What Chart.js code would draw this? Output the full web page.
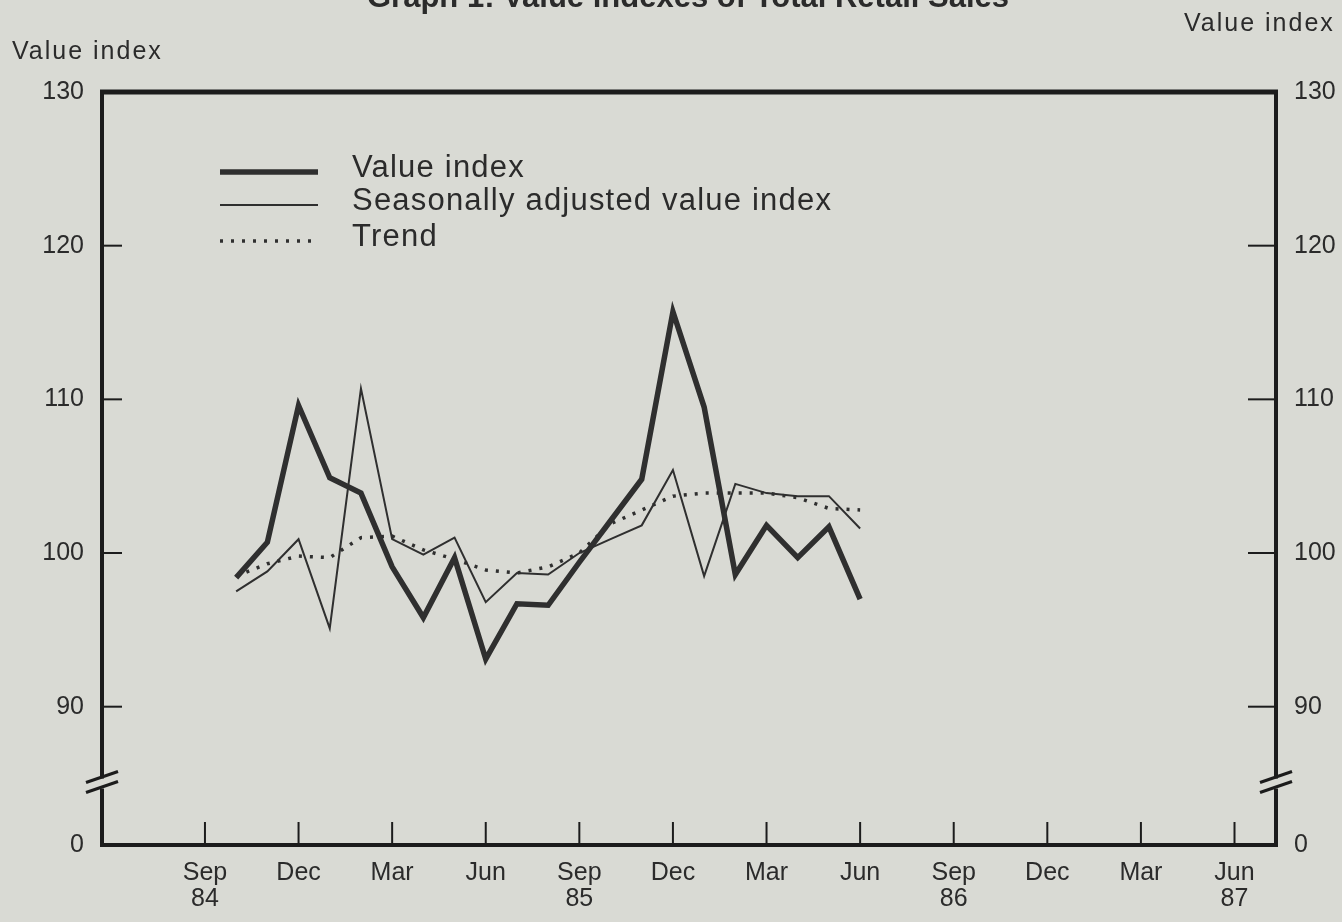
<!DOCTYPE html>
<html>
<head>
<meta charset="utf-8">
<title>Graph 1: Value indexes of Total Retail Sales</title>
<script src="https://cdn.jsdelivr.net/npm/chart.js@4.4.1/dist/chart.umd.min.js"></script>
<style>
  html, body { margin: 0; padding: 0; background: #d9dad4; }
  #wrap { width: 1342px; height: 922px; position: relative; }
</style>
</head>
<body>
<div id="wrap"><canvas id="retailChart" width="1342" height="922"></canvas></div>
<script>
// months run from Oct 84 to Jun 86; x position = months after Sep 84
const months = ['Oct 84', 'Nov 84', 'Dec 84', 'Jan 85', 'Feb 85', 'Mar 85', 'Apr 85', 'May 85', 'Jun 85',
  'Jul 85', 'Aug 85', 'Sep 85', 'Oct 85', 'Nov 85', 'Dec 85', 'Jan 86', 'Feb 86', 'Mar 86', 'Apr 86',
  'May 86', 'Jun 86'];
const valueIndex = [98.4, 100.7, 109.6, 104.9, 103.9, 99.1, 95.8, 99.7, 93.1, 96.7, 96.6, 99.4, 102.1,
  104.8, 115.7, 109.5, 98.6, 101.8, 99.7, 101.7, 97.0];
const seasAdjusted = [97.5, 98.8, 100.9, 95.1, 110.7, 100.9, 99.9, 101.0, 96.8, 98.7, 98.6, 100.0, 100.9,
  101.8, 105.4, 98.5, 104.5, 103.9, 103.7, 103.7, 101.6];
const trend = [98.5, 99.3, 99.8, 99.7, 101.0, 101.1, 100.2, 99.6, 98.9, 98.7, 99.1, 100.0, 101.9,
  102.8, 103.7, 103.9, 103.9, 103.9, 103.6, 102.9, 102.8];

// x axis ticks (every quarter) and their labels
const tickMonths = [0, 3, 6, 9, 12, 15, 18, 21, 24, 27, 30, 33];
const tickLabels = [['Sep', '84'], 'Dec', 'Mar', 'Jun', ['Sep', '85'], 'Dec', 'Mar', 'Jun',
  ['Sep', '86'], 'Dec', 'Mar', ['Jun', '87']];
// y axis: broken below 90, the bottom is labelled 0
const yTicks = [81, 90, 100, 110, 120, 130];
const yBreak = 85;

const paper = '#d9dad4';
const ink = '#2b2b2b';
const lineInk = '#2f2f2f';
const fontFamily = "'Liberation Sans', Arial, Helvetica, sans-serif";

const toPoints = arr => arr.map((v, i) => ({ x: i + 1, y: v }));

const datasets = [
  { label: 'Value index', data: toPoints(valueIndex), borderColor: lineInk, borderWidth: 5.5, borderJoinStyle: 'miter' },
  { label: 'Seasonally adjusted value index', data: toPoints(seasAdjusted), borderColor: lineInk, borderWidth: 2 },
  { label: 'Trend', data: toPoints(trend), borderColor: lineInk, borderWidth: 3.5, borderDash: [3, 8] }
].map(d => Object.assign({ pointRadius: 0, tension: 0, fill: false, yAxisID: 'y' }, d));

const yLabel = v => (v === 81 ? '0' : String(v));

const decoPlugin = {
  id: 'deco',
  beforeDatasetsDraw(chart) {
    const { ctx, chartArea: a, scales } = chart;
    ctx.save();
    ctx.strokeStyle = '#1c1c1c';
    ctx.lineWidth = 2;
    // inward tick marks
    yTicks.slice(1, -1).forEach(v => {
      const py = scales.y.getPixelForValue(v);
      ctx.beginPath(); ctx.moveTo(a.left, py); ctx.lineTo(a.left + 20, py); ctx.stroke();
      ctx.beginPath(); ctx.moveTo(a.right, py); ctx.lineTo(a.right - 28, py); ctx.stroke();
    });
    tickMonths.forEach(m => {
      const px = scales.x.getPixelForValue(m);
      ctx.beginPath(); ctx.moveTo(px, a.bottom); ctx.lineTo(px, a.bottom - 23); ctx.stroke();
    });
    ctx.restore();
  },
  afterDraw(chart) {
    const { ctx, chartArea: a, scales } = chart;
    ctx.save();
    // frame
    ctx.strokeStyle = '#1c1c1c';
    ctx.lineWidth = 4;
    ctx.strokeRect(a.left, a.top, a.right - a.left, a.bottom - a.top);
    ctx.lineWidth = 5;
    ctx.beginPath(); ctx.moveTo(a.left - 2, a.top); ctx.lineTo(a.right + 2, a.top); ctx.stroke();

    // axis breaks
    const by = scales.y.getPixelForValue(yBreak);
    [a.left, a.right].forEach(bx => {
      ctx.fillStyle = paper;
      ctx.fillRect(bx - 4, by - 5, 8, 10);
      ctx.strokeStyle = '#1c1c1c';
      ctx.lineWidth = 3;
      ctx.beginPath(); ctx.moveTo(bx - 16, by - 1); ctx.lineTo(bx + 16, by - 12); ctx.stroke();
      ctx.beginPath(); ctx.moveTo(bx - 16, by + 9); ctx.lineTo(bx + 16, by - 2); ctx.stroke();
    });

    // title and axis names
    ctx.fillStyle = ink;
    ctx.textBaseline = 'alphabetic';
    ctx.textAlign = 'center';
    ctx.font = 'bold 31px ' + fontFamily;
    ctx.fillText('Graph 1: Value indexes of Total Retail Sales', 688, 7);
    ctx.font = '25px ' + fontFamily;
    ctx.letterSpacing = '2px';
    ctx.textAlign = 'left';
    ctx.fillText('Value index', 12, 59);
    ctx.fillText('Value index', 1184, 31);

    // legend
    const lx1 = 220, lx2 = 318;
    const rows = [172, 205, 241];
    chart.data.datasets.forEach((ds, i) => {
      ctx.strokeStyle = ds.borderColor;
      ctx.lineWidth = ds.borderWidth;
      ctx.setLineDash(ds.borderDash || []);
      ctx.beginPath(); ctx.moveTo(lx1, rows[i]); ctx.lineTo(lx2, rows[i]); ctx.stroke();
    });
    ctx.setLineDash([]);
    ctx.letterSpacing = '1.2px';
    ctx.font = '31px ' + fontFamily;
    ctx.textBaseline = 'middle';
    chart.data.datasets.forEach((ds, i) => {
      ctx.fillText(ds.label, 352, rows[i] - 4);
    });
    ctx.restore();
  }
};

const tickFont = { family: fontFamily, size: 25 };

new Chart(document.getElementById('retailChart').getContext('2d'), {
  type: 'line',
  data: { datasets },
  options: {
    responsive: false,
    animation: false,
    devicePixelRatio: 1,
    layout: { padding: { top: 92, left: 0, right: 0, bottom: 0 } },
    plugins: { legend: { display: false }, title: { display: false }, tooltip: { enabled: false } },
    scales: {
      x: {
        type: 'linear', position: 'bottom', min: -3.3, max: 34.33,
        afterBuildTicks: s => { s.ticks = tickMonths.map(v => ({ value: v })); },
        afterFit: s => { s.height = 77; },
        grid: { display: false, drawTicks: false },
        border: { display: false },
        ticks: {
          autoSkip: false, maxRotation: 0, padding: 15, color: ink,
          font: Object.assign({ lineHeight: 1.05 }, tickFont),
          callback: (v, i) => tickLabels[i]
        }
      },
      y: {
        position: 'left', min: 81, max: 130,
        afterBuildTicks: s => { s.ticks = yTicks.map(v => ({ value: v })); },
        afterFit: s => { s.width = 102; },
        grid: { display: false, drawTicks: false },
        border: { display: false },
        ticks: { padding: 18, color: ink, font: tickFont, callback: yLabel }
      },
      y2: {
        position: 'right', min: 81, max: 130,
        afterBuildTicks: s => { s.ticks = yTicks.map(v => ({ value: v })); },
        afterFit: s => { s.width = 66; },
        grid: { display: false, drawTicks: false },
        border: { display: false },
        ticks: { padding: 18, color: ink, font: tickFont, callback: yLabel }
      }
    }
  },
  plugins: [decoPlugin]
});
</script>
</body>
</html>
